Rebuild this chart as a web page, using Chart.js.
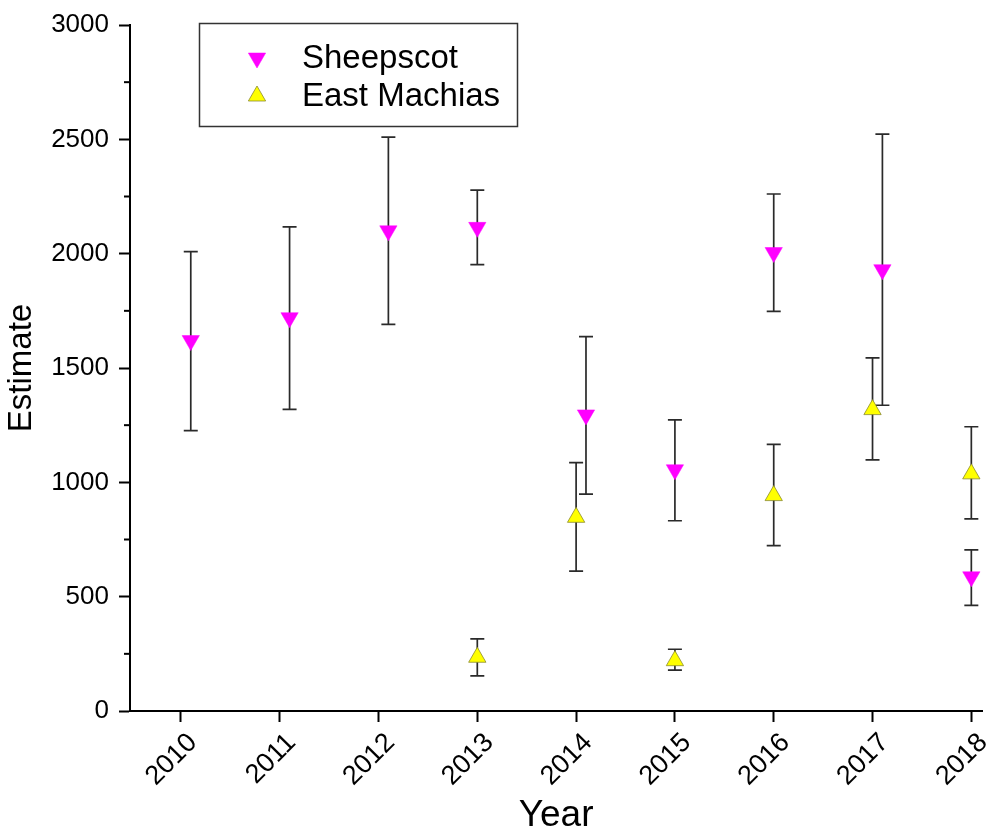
<!DOCTYPE html>
<html><head><meta charset="utf-8">
<script src="https://cdn.jsdelivr.net/npm/chart.js@4"></script>
<style>html,body{margin:0;padding:0;background:#fff}</style>
</head><body>
<canvas id="c" width="993" height="832"></canvas>
<script>
const years = [2010, 2011, 2012, 2013, 2014, 2015, 2016, 2017, 2018];
const sheepX = [2010.1, 2011.1, 2012.1, 2013, 2014.1, 2015, 2016, 2017.1, 2018];
const sheepY = [1620, 1720, 2100, 2115, 1295, 1055, 2005, 1930, 587];
const sheepLow = [1226, 1319, 1691, 1952, 948, 832, 1748, 1337, 462];
const sheepHigh = [2009, 2117, 2510, 2278, 1637, 1273, 2261, 2523, 705];
const eastX = [2013, 2014, 2015, 2016, 2017, 2018];
const eastY = [235, 847, 220, 942, 1318, 1037];
const eastLow = [154, 612, 179, 723, 1098, 840];
const eastHigh = [315, 1086, 270, 1166, 1544, 1243];
const yTicks = [0, 500, 1000, 1500, 2000, 2500, 3000];
const yMinorTicks = [250, 750, 1250, 1750, 2250, 2750];

const FONT = '"Liberation Sans", Arial, sans-serif';

const errorBars = {
  id: 'errorBars',
  beforeDatasetsDraw(chart) {
    const ctx = chart.ctx, xs = chart.scales.x, ys = chart.scales.y;
    ctx.save();
    ctx.strokeStyle = '#2a2a2a';
    ctx.lineWidth = 1.7;
    chart.data.datasets.forEach(ds => {
      ds.data.forEach((p, i) => {
        const x = xs.getPixelForValue(p.x);
        const yl = ys.getPixelForValue(ds.errLow[i]);
        const yh = ys.getPixelForValue(ds.errHigh[i]);
        ctx.beginPath();
        ctx.moveTo(x, yl); ctx.lineTo(x, yh);
        ctx.moveTo(x - 7, yl); ctx.lineTo(x + 7, yl);
        ctx.moveTo(x - 7, yh); ctx.lineTo(x + 7, yh);
        ctx.stroke();
      });
    });
    ctx.restore();
  }
};

const extras = {
  id: 'extras',
  afterDraw(chart) {
    const ctx = chart.ctx, ys = chart.scales.y, area = chart.chartArea;
    ctx.save();
    ctx.strokeStyle = '#000';
    ctx.lineWidth = 2;
    yMinorTicks.forEach(v => {
      const y = ys.getPixelForValue(v);
      ctx.beginPath();
      ctx.moveTo(area.left - 6, y); ctx.lineTo(area.left, y);
      ctx.stroke();
    });
    ctx.strokeStyle = '#333';
    ctx.lineWidth = 1.5;
    ctx.strokeRect(199.5, 23.5, 318, 103);
    ctx.font = '33px ' + FONT;
    ctx.textBaseline = 'middle';
    ctx.textAlign = 'left';
    chart.data.datasets.forEach((ds, i) => {
      const y = 58 + i * 38;
      ctx.fillStyle = ds.pointBackgroundColor;
      ctx.strokeStyle = ds.pointBorderColor;
      ctx.lineWidth = ds.pointBorderWidth;
      Chart.helpers.drawPoint(ctx, {pointStyle: 'triangle', rotation: ds.pointRotation, radius: ds.pointRadius, borderWidth: ds.pointBorderWidth}, 257, y);
      ctx.fillStyle = '#000';
      ctx.fillText(ds.label, 302, y + 1);
    });
    ctx.restore();
  }
};

new Chart(document.getElementById('c'), {
  type: 'scatter',
  data: {
    datasets: [
      {
        label: 'Sheepscot',
        data: sheepX.map((x, i) => ({x, y: sheepY[i]})),
        errLow: sheepLow, errHigh: sheepHigh,
        pointStyle: 'triangle', pointRotation: 180, pointRadius: 10,
        pointBackgroundColor: '#ff00ff', pointBorderColor: '#ff00ff', pointBorderWidth: 0.5
      },
      {
        label: 'East Machias',
        data: eastX.map((x, i) => ({x, y: eastY[i]})),
        errLow: eastLow, errHigh: eastHigh,
        pointStyle: 'triangle', pointRotation: 0, pointRadius: 10,
        pointBackgroundColor: '#ffff00', pointBorderColor: '#8a8a30', pointBorderWidth: 0.8
      }
    ]
  },
  options: {
    responsive: false,
    animation: false,
    layout: {padding: {left: 0, right: 5, top: 25, bottom: 0}},
    plugins: {legend: {display: false}, tooltip: {enabled: false}},
    scales: {
      x: {
        type: 'linear', min: 2009.485, max: 2018.11,
        afterBuildTicks: s => { s.ticks = years.map(v => ({value: v})); },
        afterFit: s => { s.height = 121; s.paddingLeft = 0; s.paddingRight = 0; },
        border: {display: true, color: '#000', width: 2},
        grid: {display: true, drawOnChartArea: false, drawTicks: true, tickLength: 11, tickWidth: 2, tickColor: '#000'},
        ticks: {
          color: '#000', font: {family: FONT, size: 27}, minRotation: 45, maxRotation: 45,
          padding: 5, labelOffset: 12, callback: v => String(v)
        },
        title: {display: true, text: 'Year', color: '#000', font: {family: FONT, size: 37, lineHeight: 1}, padding: {top: 0, bottom: -2}}
      },
      y: {
        type: 'linear', min: 0, max: 3000,
        afterBuildTicks: s => { s.ticks = yTicks.map(v => ({value: v})); },
        afterFit: s => { s.width = 130; s.paddingTop = 0; s.paddingBottom = 0; },
        border: {display: true, color: '#000', width: 2},
        grid: {display: true, drawOnChartArea: false, drawTicks: true, tickLength: 11, tickWidth: 2, tickColor: '#000'},
        ticks: {color: '#000', font: {family: FONT, size: 26}, padding: 10, callback: v => String(v)},
        title: {display: true, text: 'Estimate', color: '#000', font: {family: FONT, size: 33, lineHeight: 1}, padding: {top: 5, bottom: 0}}
      }
    }
  },
  plugins: [errorBars, extras]
});
</script>
</body></html>
